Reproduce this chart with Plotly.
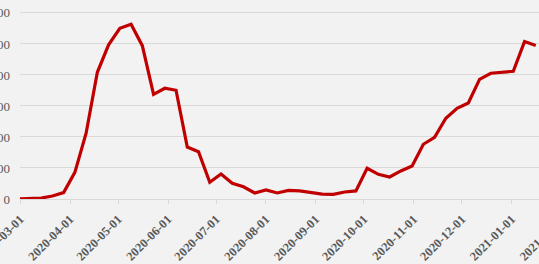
import plotly.graph_objects as go
import pandas as pd

# weekly dates (Saturdays)
dates = pd.date_range("2020-02-29", periods=47, freq="7D").strftime("%Y-%m-%d").tolist()
values = [0, 3, 6, 19, 41, 172, 424, 817, 994, 1101, 1127, 989, 675, 714, 701,
          335, 305, 108, 161, 101, 79, 39, 58, 39, 56, 52, 42, 32, 30, 45, 52,
          198, 159, 142, 181, 213, 353, 398, 521, 585, 619, 772, 811, 817, 824,
          1015, 990]
y_ticks = [0, 200, 400, 600, 800, 1000, 1200]
x_ticks = ["2020-03-01", "2020-04-01", "2020-05-01", "2020-06-01", "2020-07-01",
           "2020-08-01", "2020-09-01", "2020-10-01", "2020-11-01", "2020-12-01",
           "2021-01-01", "2021-02-01"]

FONT = "Liberation Serif, Times New Roman, serif"

fig = go.Figure(go.Scatter(x=dates, y=values, mode="lines",
                           line=dict(color="#c00000", width=3.2)))

fig.update_layout(
    width=600, height=264,
    margin=dict(l=20, r=0, t=3, b=65, autoexpand=False),
    paper_bgcolor="#f2f2f2", plot_bgcolor="#f2f2f2",
    showlegend=False,
    font=dict(family=FONT, size=12, color="#595959"),
)
fig.update_xaxes(
    range=["2020-02-29 20:00", "2021-02-25"],
    tickvals=x_ticks, ticktext=x_ticks, tickangle=-45,
    showgrid=False, showline=True, linecolor="#d9d9d9", linewidth=1,
    ticks="outside", ticklen=4, tickcolor="#d9d9d9",
    ticklabelstandoff=3, ticklabeloverflow="allow",
    automargin=False,
    tickfont=dict(family=FONT, size=12.5, color="#595959", weight="bold"),
)
fig.update_yaxes(
    range=[0, 1264],
    tickvals=y_ticks, tickformat=",",
    showgrid=True, gridcolor="#d9d9d9", gridwidth=1,
    zeroline=False, showline=False,
    ticklabelstandoff=9, ticklabeloverflow="allow", automargin=False,
    tickfont=dict(family=FONT, size=13, color="#595959"),
)
fig.write_html("out.html")
